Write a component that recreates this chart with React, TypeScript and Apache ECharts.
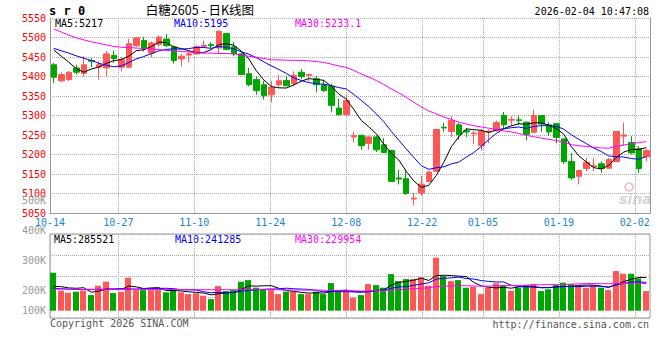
import React, { useEffect, useRef } from 'react';
import * as echarts from 'echarts';

const dates = [
  '10-14','10-15','10-16','10-17','10-20','10-21','10-22','10-23','10-24','10-27','10-28','10-29','10-30','10-31',
  '11-03','11-04','11-05','11-06','11-07','11-10','11-11','11-12','11-13','11-14','11-17','11-18','11-19','11-20','11-21','11-24','11-25','11-26','11-27','11-28',
  '12-01','12-02','12-03','12-04','12-05','12-08','12-09','12-10','12-11','12-12','12-15','12-16','12-17','12-18','12-19','12-22','12-23','12-24','12-25','12-26','12-29','12-30','12-31',
  '01-05','01-06','01-07','01-08','01-09','01-12','01-13','01-14','01-15','01-16','01-19','01-20','01-21','01-22','01-23','01-26','01-27','01-28','01-29','01-30',
  '02-02','02-03','02-04'
];

const opens = [
  5430,5389,5392,5422,5408,5441,5424,5422,5454,5424,
  5424,5479,5492,5460,5482,5496,5476,5445,5455,5458,
  5477,5482,5473,5510,5476,5458,5407,5392,5379,5353,
  5379,5390,5382,5411,5403,5394,5379,5375,5319,5302,
  5245,5249,5228,5245,5225,5210,5140,5138,5086,5101,
  5131,5157,5270,5259,5276,5261,5253,5223,5258,5261,
  5300,5288,5289,5283,5257,5300,5276,5279,5240,5182,
  5144,5164,5169,5176,5165,5182,5247,5231,5215,5194
];
const closes = [
  5398,5405,5411,5411,5430,5439,5430,5458,5446,5443,
  5484,5499,5471,5486,5501,5479,5441,5452,5458,5476,
  5480,5479,5516,5469,5458,5405,5379,5364,5351,5372,
  5389,5376,5403,5400,5405,5379,5364,5326,5302,5338,
  5248,5223,5245,5212,5205,5131,5137,5100,5088,5124,
  5155,5264,5268,5287,5251,5258,5255,5259,5260,5282,
  5276,5290,5287,5252,5300,5278,5258,5244,5182,5140,
  5159,5180,5171,5164,5187,5259,5250,5204,5164,5210
];
const lows = [
  5383,5385,5388,5405,5400,5424,5392,5400,5435,5413,
  5422,5476,5464,5449,5476,5476,5433,5426,5436,5456,
  5473,5473,5458,5467,5452,5405,5375,5353,5341,5334,
  5372,5375,5375,5394,5388,5359,5360,5308,5300,5300,
  5231,5212,5212,5206,5204,5131,5123,5097,5070,5094,
  5131,5155,5258,5245,5238,5245,5227,5210,5229,5259,
  5268,5272,5275,5236,5255,5258,5247,5229,5176,5135,
  5123,5157,5157,5153,5164,5180,5223,5200,5153,5182
];
const highs = [
  5435,5411,5413,5430,5452,5447,5439,5466,5466,5449,
  5496,5501,5501,5490,5505,5509,5480,5458,5466,5480,
  5492,5488,5518,5510,5488,5462,5422,5400,5389,5388,
  5405,5402,5413,5419,5407,5402,5390,5382,5343,5352,
  5259,5251,5247,5247,5242,5212,5161,5161,5101,5146,
  5158,5264,5281,5298,5282,5268,5261,5265,5264,5287,
  5309,5298,5300,5285,5315,5300,5283,5281,5241,5204,
  5161,5191,5191,5182,5191,5259,5282,5247,5221,5214
];
const volumes = [
  290000,200000,190000,195000,200000,178000,225000,245000,188000,195000,
  265000,203000,203000,203000,203000,192000,203000,192000,183000,187000,
  175000,158000,223000,198000,203000,245000,253000,215000,208000,203000,
  183000,195000,195000,183000,183000,195000,183000,238000,195000,203000,
  165000,178000,233000,228000,215000,283000,248000,258000,258000,267000,
  225000,365000,273000,248000,253000,215000,220000,183000,215000,237000,
  228000,200000,215000,228000,233000,198000,207000,228000,240000,233000,
  225000,215000,225000,215000,203000,298000,285000,285000,262000,198000
];

// moving-average values before a full window is available
const ma5Head = [5468, 5452, 5437, 5420];
const ma10Head = [5472, 5466, 5460, 5453, 5447, 5441, 5434, 5429, 5425];
const ma30Head = [
  5522,5514,5506,5499,5494,5489,5485,5481,5477,5475,
  5474,5473,5472,5471,5469,5467,5466,5464,5463,5461,
  5460,5460,5459,5459,5458,5455,5452,5449,5446
];
const volMa5Head = [222000, 220000, 214000, 212000];
const volMa10Head = [212000, 210000, 208000, 206000, 205000, 205000, 206000, 207000, 209000];
const volMa30Head = [
  208000,208000,208000,207000,207000,207000,207000,207000,207000,207000,
  207000,207000,206000,206000,206000,206000,206000,206000,206000,205000,
  205000,205000,205000,205000,205000,205000,206000,206000,207000
];

const dateLabelIdx = [0, 9, 19, 29, 39, 49, 57, 67, 77];
const priceMin = 5050;
const priceMax = 5550;
const priceStep = 50;
const volLabelTicks = [100000, 200000, 300000, 400000, 500000];
const maTexts = ['MA5:5217', 'MA10:5195', 'MA30:5233.1'];
const volMaTexts = ['MA5:285521', 'MA10:241285', 'MA30:229954'];
const titleText = '白糖2605 - 日K线图';
const codeText = 's r 0';
const timeText = '2026-02-04 10:47:08';
const copyrightText = 'Copyright 2026 SINA.COM';
const urlText = 'http://finance.sina.com.cn';

const MONO = '"DejaVu Sans Mono", "Liberation Mono", monospace';
const RED = '#ff5656';
const GREEN = '#00a600';
const GRID_DOT = '#aaaaaa';
const BORDER = '#999999';
const VOL_BASE = 100000;

function movingAvg(src: number[], n: number, head: number[]) {
  return src.map((_, i) => {
    if (i < n - 1) return head[i];
    let s = 0;
    for (let k = i - n + 1; k <= i; k++) s += src[k];
    return s / n;
  });
}

export default function App() {
  const ref = useRef<HTMLDivElement>(null);
  useEffect(() => {
    const chart = echarts.init(ref.current as HTMLDivElement, undefined, { renderer: 'svg' });
    const labelSet = new Set(dateLabelIdx);
    const intervalFn = (idx: number) => labelSet.has(idx);
    const candleData = dates.map((_, i) => [opens[i], closes[i], lows[i], highs[i]]);
    const volData = volumes.map((v, i) => [i, v, closes[i] >= opens[i] ? 1 : -1]);
    const ma5 = movingAvg(closes, 5, ma5Head);
    const ma10 = movingAvg(closes, 10, ma10Head);
    const ma30 = movingAvg(closes, 30, ma30Head);
    const vma5 = movingAvg(volumes, 5, volMa5Head);
    const vma10 = movingAvg(volumes, 10, volMa10Head);
    const vma30 = movingAvg(volumes, 30, volMa30Head);

    const txt = (text: string, x: number, y: number, fill: string, font: string, align = 'left') => ({
      type: 'text',
      silent: true,
      style: { text, x, y, fill, font, textAlign: align, align, textVerticalAlign: 'middle', verticalAlign: 'middle' },
    });

    const line = (data: number[], color: string, xi: number, yi: number) => ({
      type: 'line',
      data,
      xAxisIndex: xi,
      yAxisIndex: yi,
      symbol: 'none',
      showSymbol: false,
      silent: true,
      lineStyle: { color, width: 1 },
      z: 3,
    });

    const option: any = {
      animation: false,
      backgroundColor: '#ffffff',
      grid: [
        { left: 50, top: 18, width: 600, height: 195, show: false },
        { left: 50, top: 234, width: 600, height: 84, show: true, borderColor: BORDER, borderWidth: 1, backgroundColor: 'transparent' },
        { left: 50, top: 200.7, width: 600, height: 120, show: false },
      ],
      xAxis: [
        { type: 'category', gridIndex: 0, data: dates, boundaryGap: true, show: false, splitLine: { show: false } },
        {
          type: 'category', gridIndex: 0, data: dates, boundaryGap: false, position: 'bottom',
          axisLine: { show: true, lineStyle: { color: BORDER, width: 1 } },
          axisTick: { show: false },
          axisLabel: { interval: intervalFn, color: '#1b86d2', fontSize: 10, fontFamily: MONO, margin: 4, hideOverlap: false },
          splitLine: { show: true, interval: intervalFn, lineStyle: { color: GRID_DOT, width: 1, type: [1, 1] } },
        },
        { type: 'category', gridIndex: 1, data: dates, boundaryGap: true, show: false, splitLine: { show: false } },
        {
          type: 'category', gridIndex: 1, data: dates, boundaryGap: false, position: 'bottom',
          axisLine: { show: false }, axisTick: { show: false }, axisLabel: { show: false },
          splitLine: { show: true, interval: intervalFn, lineStyle: { color: GRID_DOT, width: 1, type: [1, 1] } },
        },
        { type: 'category', gridIndex: 2, data: dates, show: false, splitLine: { show: false } },
      ],
      yAxis: [
        {
          type: 'value', gridIndex: 0, min: priceMin, max: priceMax, interval: priceStep, position: 'left',
          axisLine: { show: true, lineStyle: { color: BORDER, width: 1 } },
          axisTick: { show: false },
          axisLabel: {
            color: '#ff0000', fontSize: 10, fontFamily: MONO, margin: 4, padding: [0, 0, 4, 0],
            formatter: (v: number) => String(v),
          },
          splitLine: { show: true, lineStyle: { color: GRID_DOT, width: 1, type: [1, 1] } },
        },
        {
          type: 'value', gridIndex: 0, min: priceMin, max: priceMax, position: 'right',
          axisLine: { show: true, lineStyle: { color: BORDER, width: 1 } },
          axisTick: { show: false }, axisLabel: { show: false }, splitLine: { show: false },
        },
        { type: 'value', gridIndex: 1, min: 63500, max: 483500, show: false, splitLine: { show: false } },
        {
          type: 'value', gridIndex: 1, min: 0, max: 4, interval: 1, position: 'left',
          axisLine: { show: false }, axisTick: { show: false }, axisLabel: { show: false },
          splitLine: { show: true, lineStyle: { color: GRID_DOT, width: 1, type: [1, 1] } },
        },
        {
          type: 'value', gridIndex: 2, min: volLabelTicks[0], max: volLabelTicks[volLabelTicks.length - 1],
          interval: volLabelTicks[1] - volLabelTicks[0], position: 'left',
          axisLine: { show: false }, axisTick: { show: false }, splitLine: { show: false },
          axisLabel: {
            color: '#999999', fontSize: 10, fontFamily: MONO, margin: 4, lineHeight: 10,
            formatter: (v: number) => (v === volLabelTicks[0] ? `${v / 1000}K\n\n` : `${v / 1000}K`),
          },
        },
      ],
      series: [
        {
          type: 'candlestick',
          xAxisIndex: 0, yAxisIndex: 0,
          data: candleData,
          barWidth: 6,
          silent: true,
          itemStyle: { color: RED, color0: GREEN, borderColor: RED, borderColor0: GREEN, borderWidth: 1 },
          z: 2,
        },
        line(ma5, '#000000', 0, 0),
        line(ma10, '#0000ff', 0, 0),
        line(ma30, '#ff00ff', 0, 0),
        {
          type: 'custom',
          xAxisIndex: 2, yAxisIndex: 2,
          data: volData,
          encode: { x: 0, y: 1 },
          silent: true,
          z: 2,
          renderItem: (params: any, api: any) => {
            const idx = api.value(0);
            const v = api.value(1);
            const up = api.value(2) > 0;
            const top = api.coord([idx, v]);
            const base = api.coord([idx, VOL_BASE]);
            const w = 6;
            const x = Math.floor(top[0] - w / 2);
            return {
              type: 'rect',
              shape: { x, y: top[1], width: w, height: base[1] - top[1] },
              style: { fill: up ? RED : GREEN },
            };
          },
        },
        line(vma5, '#000000', 2, 2),
        line(vma10, '#0000ff', 2, 2),
        line(vma30, '#ff00ff', 2, 2),
      ],
      graphic: [
        txt(codeText, 49, 11, '#000000', `bold 12px ${MONO}`),
        txt(titleText, 200, 9, '#000000', '12.5px "Noto Sans CJK SC", sans-serif', 'center'),
        txt(timeText, 649, 11.5, '#000000', `10px ${MONO}`, 'right'),
        txt(maTexts[0], 55, 23, '#000000', `10px ${MONO}`),
        txt(maTexts[1], 174, 23, '#0000ff', `10px ${MONO}`),
        txt(maTexts[2], 295, 23, '#ff00ff', `10px ${MONO}`),
        txt(volMaTexts[0], 54, 239, '#000000', `10px ${MONO}`),
        txt(volMaTexts[1], 175, 239, '#0000ff', `10px ${MONO}`),
        txt(volMaTexts[2], 295, 239, '#ff00ff', `10px ${MONO}`),
        txt(copyrightText, 50, 323, '#555555', `10px ${MONO}`),
        txt(urlText, 649, 324, '#555555', `10px ${MONO}`, 'right'),
        {
          type: 'circle', silent: true, shape: { cx: 629, cy: 187, r: 4 },
          style: { fill: 'none', stroke: '#f2b8b8', lineWidth: 1.5 },
        },
        txt('sina', 619, 199, '#d6d6d6', `italic bold 14px "DejaVu Sans", sans-serif`),
      ],
    };
    chart.setOption(option);
    return () => chart.dispose();
  }, []);
  return (
    <div
      ref={ref}
      style={{ position: 'absolute', left: 0, top: 0, width: 660, height: 360, background: '#ffffff' }}
    />
  );
}
